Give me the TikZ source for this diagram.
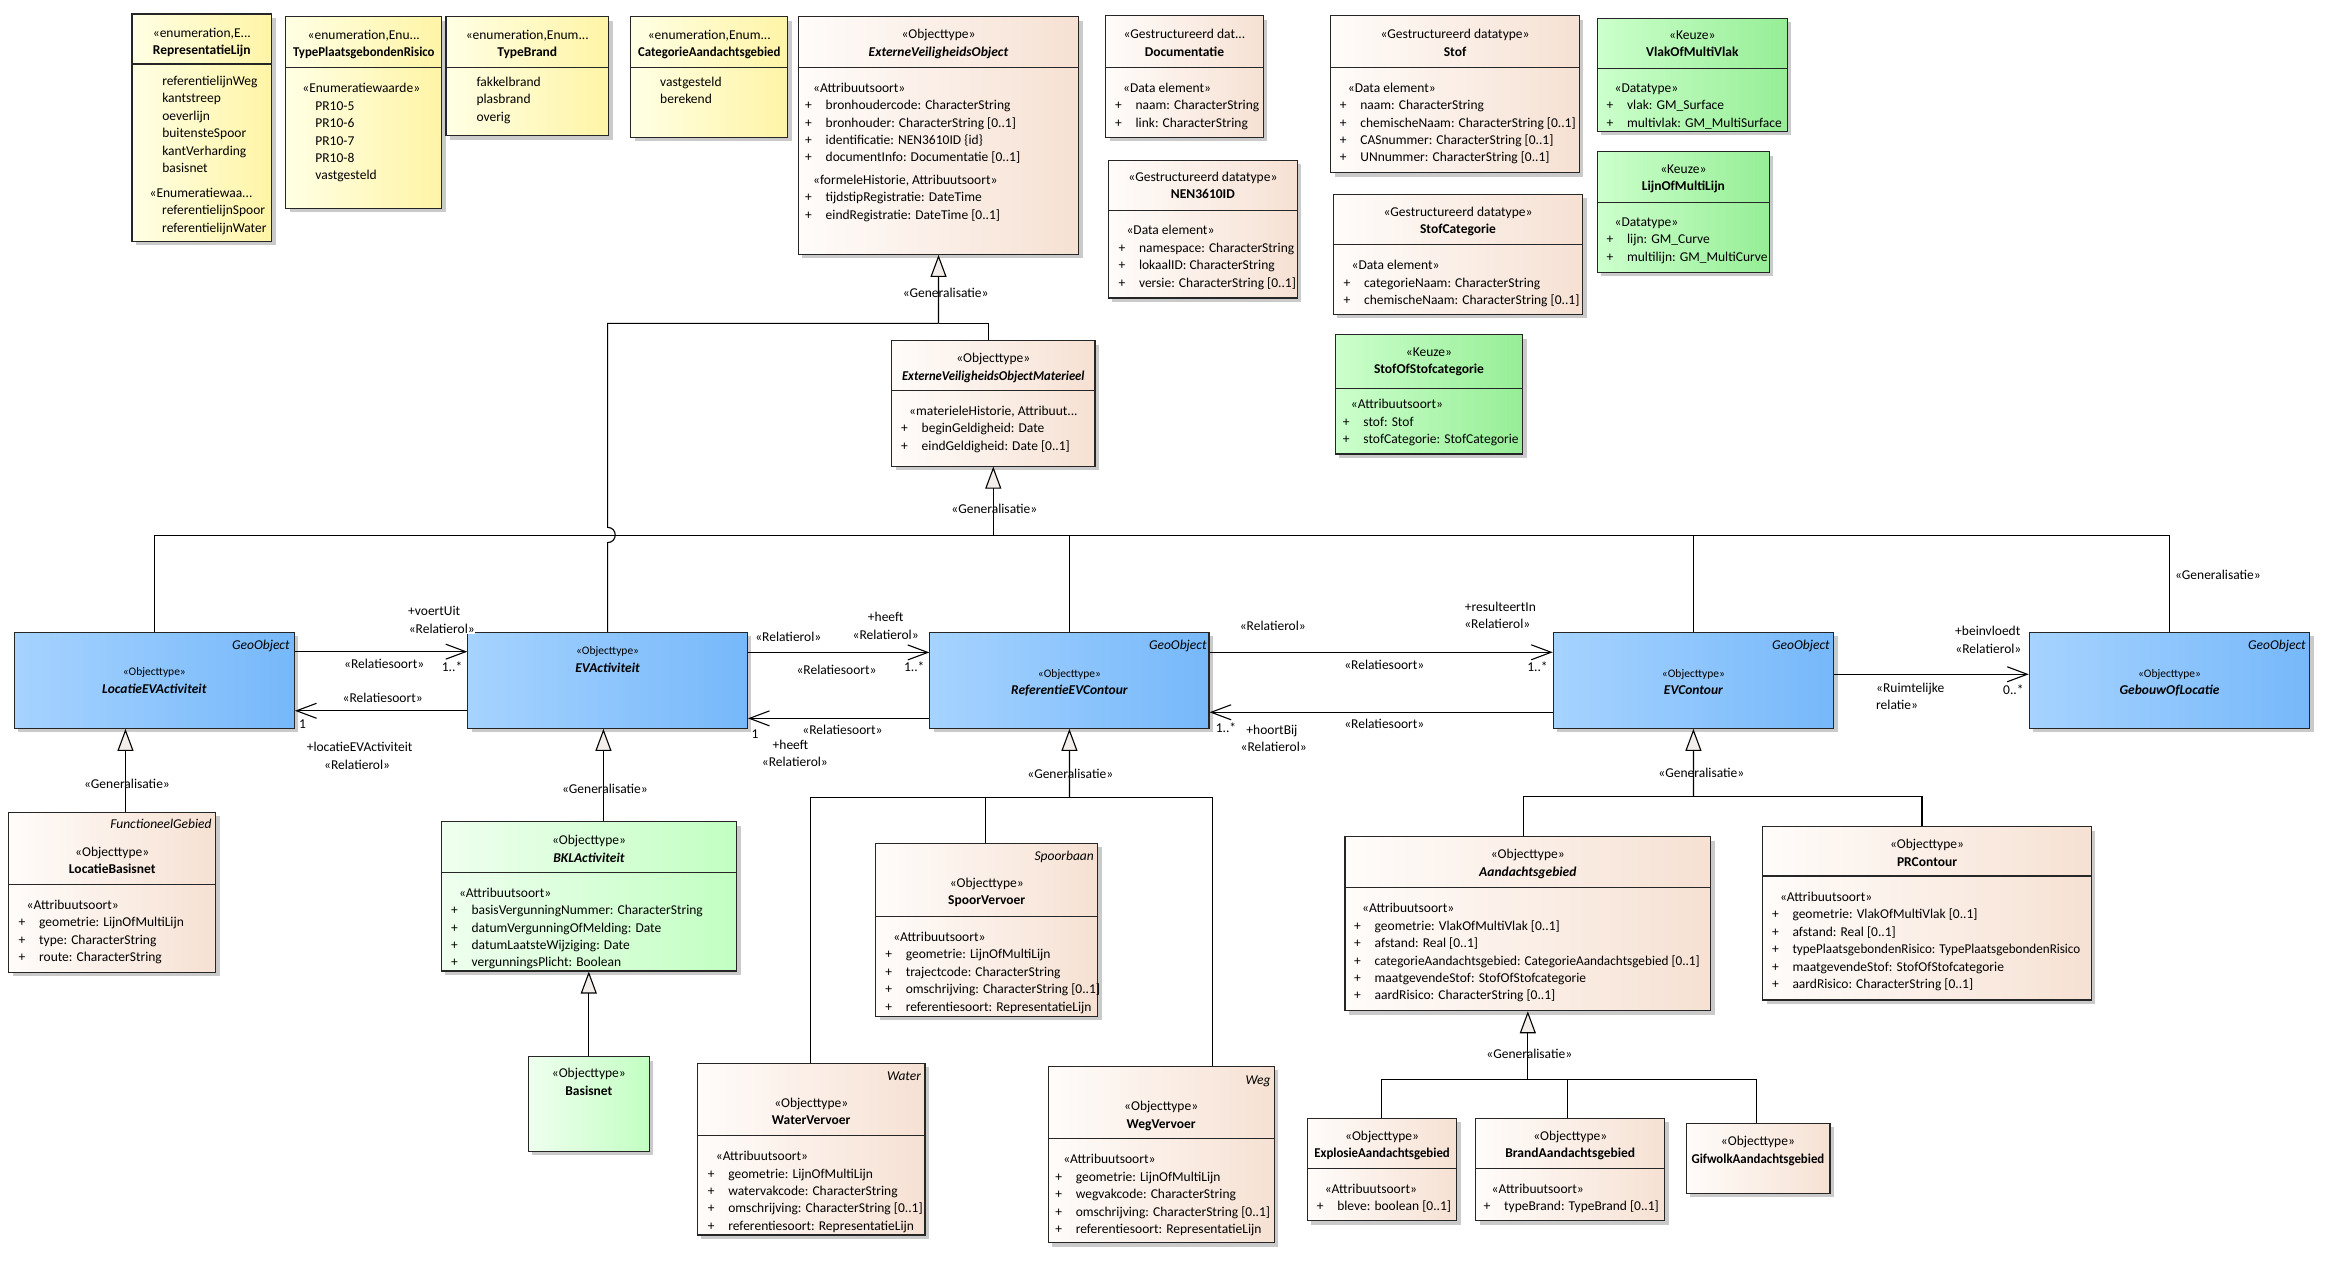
\documentclass[tikz,border=0pt]{standalone}
\usepackage{fontspec}
\setmainfont{Carlito}
\usepackage{tikz}
\usetikzlibrary{arrows.meta,fit,shadows}

\definecolor{enumL}{HTML}{FFFFE4}
\definecolor{enumR}{HTML}{FFF4A6}
\definecolor{objL}{HTML}{FFFCFA}
\definecolor{objR}{HTML}{F6E1D3}
\definecolor{geoL}{HTML}{A6D3FF}
\definecolor{geoR}{HTML}{76B8FA}
\definecolor{bklL}{HTML}{EFFFEF}
\definecolor{bklR}{HTML}{C2FFC2}
\definecolor{keuL}{HTML}{CCFFCC}
\definecolor{keuR}{HTML}{96EE96}
\definecolor{trifill}{HTML}{F4EEEA}

\newcommand{\ea}{\fontsize{13.5}{17.4}\selectfont}
\newcommand{\eas}{\fontsize{11.5}{15}\selectfont}
\newcommand{\pl}{\makebox[20.5pt][l]{+}}
\newcommand{\ind}{\hspace*{8pt}}
\newcommand{\umlbox}[6]{\node[#2,fit={(#3,#4) (#5,#6)}] (#1) {};}
\newcommand{\compsep}[2]{\draw[sepline] (#1.west |- 0,#2) -- (#1.east |- 0,#2);}

\begin{document}
\begin{tikzpicture}[x=1.4885pt,y=-1.4885pt,
  cls/.style={draw=black!85,line width=1.1pt,inner sep=0pt,
    drop shadow={shadow xshift=4pt,shadow yshift=-4pt,fill=black!60,opacity=.35}},
  enumbox/.style={cls,left color=enumL,right color=enumR},
  objbox/.style={cls,left color=objL,right color=objR},
  geobox/.style={cls,left color=geoL,right color=geoR},
  bklbox/.style={cls,left color=bklL,right color=bklR},
  keuzebox/.style={cls,left color=keuL,right color=keuR},
  sepline/.style={draw=black!85,line width=1.1pt},
  txt/.style={inner sep=0pt,font=\ea,execute at begin node={\rule{0pt}{13pt}}},
  hd/.style={txt,align=center,anchor=north,yshift=4pt},
  attr/.style={txt,align=left,anchor=north west,yshift=4pt},
  lbl/.style={txt,anchor=north,yshift=8.5pt},
  tag/.style={txt,anchor=north east,yshift=8.5pt,font=\ea\itshape},
  lnk/.style={line width=1.1pt},
  assoc/.style={lnk,-{Straight Barb[length=20pt,width=15pt]}},
  gen/.style={lnk,-{Triangle[length=22pt,width=16pt,fill=trifill]}}]
 \useasboundingbox (0,0) rectangle (1568,848);

 % enumeraties
 \umlbox{RepLijn}{enumbox}{88.7}{9.4}{182.6}{162}
 \compsep{RepLijn}{43}
 \node[hd] (RepLijn-h) at (135.6,21.3) {«enumeration,E...\\\textbf{RepresentatieLijn}};
 \node[attr] (RepLijn-a) at (108.9,53.7) {referentielijnWeg\\kantstreep\\oeverlijn\\buitensteSpoor\\kantVerharding\\basisnet};
 \node[attr] (RepLijn-b) at (100.4,128.8) {«Enumeratiewaa...\\\hspace*{12.6pt}referentielijnSpoor\\\hspace*{12.6pt}referentielijnWater};

 \umlbox{TypePR}{enumbox}{191.9}{11.2}{296.8}{140}
 \compsep{TypePR}{45.2}
 \node[hd] (TypePR-h) at (244.4,22.8) {«enumeration,Enu...\\\textbf{\scalebox{.95}[1]{TypePlaatsgebondenRisico}}};
 \node[attr] (TypePR-a) at (203,58.7) {«Enumeratiewaarde»\\\hspace*{13pt}PR10-5\\\hspace*{13pt}PR10-6\\\hspace*{13pt}PR10-7\\\hspace*{13pt}PR10-8\\\hspace*{13pt}vastgesteld};

 \umlbox{TypeBrand}{enumbox}{299.6}{11.2}{408.9}{91.2}
 \compsep{TypeBrand}{45.2}
 \node[hd] (TypeBrand-h) at (354.2,22.8) {«enumeration,Enum...\\\textbf{TypeBrand}};
 \node[attr] (TypeBrand-a) at (320,54.2) {fakkelbrand\\plasbrand\\overig};

 \umlbox{CatAG}{enumbox}{423.8}{11.2}{529.2}{92.3}
 \compsep{CatAG}{45.2}
 \node[hd] (CatAG-h) at (476.5,22.8) {«enumeration,Enum...\\\textbf{\scalebox{.95}[1]{CategorieAandachtsgebied}}};
 \node[attr] (CatAG-a) at (443.4,54.2) {vastgesteld\\berekend};

 % datatypen
 \umlbox{EVO}{objbox}{536.3}{11.2}{724.7}{170.9}
 \compsep{EVO}{45.2}
 \node[hd] (EVO-h) at (630.5,22.4) {«Objecttype»\\\textbf{\textit{ExterneVeiligheidsObject}}};
 \node[attr] (EVO-a) at (540.8,58.2) {\ind«Attribuutsoort»\\\pl bronhoudercode: CharacterString\\\pl bronhouder: CharacterString [0..1]\\\pl identificatie: NEN3610ID \{id\}\\\pl documentInfo: Documentatie [0..1]\\[5pt]\ind«formeleHistorie, Attribuutsoort»\\\pl tijdstipRegistratie: DateTime\\\pl eindRegistratie: DateTime [0..1]};

 \umlbox{Doc}{objbox}{742.8}{10.7}{848.7}{92.2}
 \compsep{Doc}{45.2}
 \node[hd] (Doc-h) at (795.7,22.4) {«Gestructureerd dat...\\\textbf{Documentatie}};
 \node[attr] (Doc-a) at (749,58.2) {\ind«Data element»\\\pl naam: CharacterString\\\pl link: CharacterString};

 \umlbox{NEN}{objbox}{744.6}{107.7}{871.6}{200.2}
 \compsep{NEN}{141.5}
 \node[hd] (NEN-h) at (808.1,118.2) {«Gestructureerd datatype»\\\textbf{NEN3610ID}};
 \node[attr] (NEN-a) at (751.3,154.1) {\ind«Data element»\\\pl namespace: CharacterString\\\pl lokaalID: CharacterString\\\pl versie: CharacterString [0..1]};

 \umlbox{Stof}{objbox}{893.9}{10.7}{1061}{116}
 \compsep{Stof}{45.2}
 \node[hd] (Stof-h) at (977.5,22.4) {«Gestructureerd datatype»\\\textbf{Stof}};
 \node[attr] (Stof-a) at (900,58.2) {\ind«Data element»\\\pl naam: CharacterString\\\pl chemischeNaam: CharacterString [0..1]\\\pl CASnummer: CharacterString [0..1]\\\pl UNnummer: CharacterString [0..1]};

 \umlbox{StofCat}{objbox}{895.7}{130.6}{1063.2}{211.2}
 \compsep{StofCat}{164.2}
 \node[hd] (StofCat-h) at (979.5,141.5) {«Gestructureerd datatype»\\\textbf{StofCategorie}};
 \node[attr] (StofCat-a) at (902.5,177.4) {\ind«Data element»\\\pl categorieNaam: CharacterString\\\pl chemischeNaam: CharacterString [0..1]};

 \umlbox{StofKeuze}{keuzebox}{897}{225}{1023}{305}
 \compsep{StofKeuze}{261}
 \node[hd] (StofKeuze-h) at (960,236) {«Keuze»\\\textbf{StofOfStofcategorie}};
 \node[attr] (StofKeuze-a) at (902,271) {\ind«Attribuutsoort»\\\pl stof: Stof\\\pl stofCategorie: StofCategorie};

 \umlbox{Vlak}{keuzebox}{1073}{12.3}{1200.7}{88.2}
 \compsep{Vlak}{45.9}
 \node[hd] (Vlak-h) at (1136.9,23) {«Keuze»\\\textbf{VlakOfMultiVlak}};
 \node[attr] (Vlak-a) at (1079.2,58.9) {\ind«Datatype»\\\pl vlak: GM\_Surface\\\pl multivlak: GM\_MultiSurface};

 \umlbox{Lijn}{keuzebox}{1073}{101.9}{1188.7}{183}
 \compsep{Lijn}{135.9}
 \node[hd] (Lijn-h) at (1130.9,113.3) {«Keuze»\\\textbf{LijnOfMultiLijn}};
 \node[attr] (Lijn-a) at (1079.2,148.9) {\ind«Datatype»\\\pl lijn: GM\_Curve\\\pl multilijn: GM\_MultiCurve};

 \umlbox{EVOM}{objbox}{599}{228.9}{735.6}{313.1}
 \compsep{EVOM}{262.5}
 \node[hd] (EVOM-h) at (667.3,240) {«Objecttype»\\\textbf{\textit{\scalebox{.94}[1]{ExterneVeiligheidsObjectMaterieel}}}};
 \node[attr] (EVOM-a) at (605.3,275.4) {\ind«materieleHistorie, Attribuut...\\\pl beginGeldigheid: Date\\\pl eindGeldigheid: Date [0..1]};

 % geo-objecten
 \umlbox{LocatieEVActiviteit}{geobox}{9.6}{424.8}{197.8}{489.3}
 \node[tag] (LocEV-t) at (194.7,433.3) {GeoObject};
 \node[hd] (LocEV-h) at (103.7,451.2) {{\eas«Objecttype»}\\\textbf{\textit{LocatieEVActiviteit}}};
 \umlbox{EVActiviteit}{geobox}{314.3}{424.8}{502.1}{489.3}
 \node[hd] (EVAct-h) at (408.2,437.1) {{\eas«Objecttype»}\\\textbf{\textit{EVActiviteit}}};
 \umlbox{ReferentieEVContour}{geobox}{624.7}{424.8}{812.2}{489.3}
 \node[tag] (RefEV-t) at (810.7,433.5) {GeoObject};
 \node[hd] (RefEV-h) at (718.5,452.3) {{\eas«Objecttype»}\\\textbf{\textit{ReferentieEVContour}}};
 \umlbox{EVContour}{geobox}{1043.5}{424.8}{1231.8}{489.3}
 \node[tag] (EVC-t) at (1229.3,433.5) {GeoObject};
 \node[hd] (EVC-h) at (1137.7,452.3) {{\eas«Objecttype»}\\\textbf{\textit{EVContour}}};
 \umlbox{GebouwOfLocatie}{geobox}{1363.3}{424.8}{1551.6}{489.3}
 \node[tag] (Geb-t) at (1549.1,433.5) {GeoObject};
 \node[hd] (Geb-h) at (1457.5,452.3) {{\eas«Objecttype»}\\\textbf{\textit{GebouwOfLocatie}}};

 % subtypen
 \umlbox{LocatieBasisnet}{objbox}{5.9}{545.7}{144.9}{653.2}
 \compsep{LocatieBasisnet}{594.1}
 \node[tag] (LocB-t) at (142.3,553.6) {FunctioneelGebied};
 \node[hd] (LocB-h) at (75.4,571.5) {«Objecttype»\\\textbf{LocatieBasisnet}};
 \node[attr] (LocB-a) at (12.4,607.3) {\ind«Attribuutsoort»\\\pl geometrie: LijnOfMultiLijn\\\pl type: CharacterString\\\pl route: CharacterString};

 \umlbox{BKLActiviteit}{bklbox}{296.3}{552}{495}{652.3}
 \compsep{BKLActiviteit}{586}
 \node[hd] (BKL-h) at (395.7,563.7) {«Objecttype»\\\textbf{\textit{BKLActiviteit}}};
 \node[attr] (BKL-a) at (302.9,599) {\ind«Attribuutsoort»\\\pl basisVergunningNummer: CharacterString\\\pl datumVergunningOfMelding: Date\\\pl datumLaatsteWijziging: Date\\\pl vergunningsPlicht: Boolean};

 \umlbox{Basisnet}{bklbox}{354.8}{709.9}{436.3}{773.5}
 \node[hd] (Basisnet-h) at (395.6,720.4) {«Objecttype»\\\textbf{Basisnet}};

 \umlbox{SpoorVervoer}{objbox}{588.3}{566.6}{737.4}{682.6}
 \compsep{SpoorVervoer}{615.8}
 \node[tag] (Spoor-t) at (735,575.1) {Spoorbaan};
 \node[hd] (Spoor-h) at (662.9,592.3) {«Objecttype»\\\textbf{SpoorVervoer}};
 \node[attr] (Spoor-a) at (594.6,628.8) {\ind«Attribuutsoort»\\\pl geometrie: LijnOfMultiLijn\\\pl trajectcode: CharacterString\\\pl omschrijving: CharacterString [0..1]\\\pl referentiesoort: RepresentatieLijn};

 \umlbox{WaterVervoer}{objbox}{468.5}{714.3}{621.4}{829.7}
 \compsep{WaterVervoer}{763}
 \node[tag] (Water-t) at (618.8,722.9) {Water};
 \node[hd] (Water-h) at (545,740.1) {«Objecttype»\\\textbf{WaterVervoer}};
 \node[attr] (Water-a) at (475.4,776) {\ind«Attribuutsoort»\\\pl geometrie: LijnOfMultiLijn\\\pl watervakcode: CharacterString\\\pl omschrijving: CharacterString [0..1]\\\pl referentiesoort: RepresentatieLijn};

 \umlbox{WegVervoer}{objbox}{704.1}{716.2}{856.2}{834.8}
 \compsep{WegVervoer}{764.7}
 \node[tag] (Weg-t) at (853.7,725.1) {Weg};
 \node[hd] (Weg-h) at (780.1,742.4) {«Objecttype»\\\textbf{WegVervoer}};
 \node[attr] (Weg-a) at (708.8,778.2) {\ind«Attribuutsoort»\\\pl geometrie: LijnOfMultiLijn\\\pl wegvakcode: CharacterString\\\pl omschrijving: CharacterString [0..1]\\\pl referentiesoort: RepresentatieLijn};

 \umlbox{Aandachtsgebied}{objbox}{903.6}{562.1}{1149.2}{679}
 \compsep{Aandachtsgebied}{596.1}
 \node[hd] (AG-h) at (1026.4,573.3) {«Objecttype»\\\textbf{\textit{Aandachtsgebied}}};
 \node[attr] (AG-a) at (909.6,609.5) {\ind«Attribuutsoort»\\\pl geometrie: VlakOfMultiVlak [0..1]\\\pl afstand: Real [0..1]\\\pl \scalebox{.98}[1]{categorieAandachtsgebied: CategorieAandachtsgebied [0..1]}\\\pl maatgevendeStof: StofOfStofcategorie\\\pl aardRisico: CharacterString [0..1]};

 \umlbox{PRContour}{objbox}{1184.3}{555.4}{1404.9}{671.8}
 \compsep{PRContour}{588.5}
 \node[hd] (PRC-h) at (1294.6,566.6) {«Objecttype»\\\textbf{PRContour}};
 \node[attr] (PRC-a) at (1190.3,601.9) {\ind«Attribuutsoort»\\\pl geometrie: VlakOfMultiVlak [0..1]\\\pl afstand: Real [0..1]\\\pl \scalebox{.97}[1]{typePlaatsgebondenRisico: TypePlaatsgebondenRisico}\\\pl maatgevendeStof: StofOfStofcategorie\\\pl aardRisico: CharacterString [0..1]};

 \umlbox{Explosie}{objbox}{878.3}{751.3}{978.6}{820.1}
 \compsep{Explosie}{784.9}
 \node[hd] (Expl-h) at (928.5,762.5) {«Objecttype»\\\textbf{\scalebox{.95}[1]{ExplosieAandachtsgebied}}};
 \node[attr] (Expl-a) at (884.5,797.9) {\ind«Attribuutsoort»\\\pl bleve: boolean [0..1]};

 \umlbox{Brand}{objbox}{991.4}{751.3}{1118.3}{820.1}
 \compsep{Brand}{784.9}
 \node[hd] (Brand-h) at (1054.9,762.5) {«Objecttype»\\\textbf{BrandAandachtsgebied}};
 \node[attr] (Brand-a) at (996.6,797.9) {\ind«Attribuutsoort»\\\pl typeBrand: TypeBrand [0..1]};

 \umlbox{Gifwolk}{objbox}{1132.7}{754.7}{1229.4}{801.7}
 \node[hd] (Gif-h) at (1181,765.9) {«Objecttype»\\\textbf{\scalebox{.95}[1]{GifwolkAandachtsgebied}}};

 % generalisaties
 \coordinate (g1) at (630.5,217.2);
 \draw[gen] (g1) -- (EVO.south);
 \draw[lnk] (EVOM.north -| 664,0) |- (g1);
 \draw[lnk] (EVActiviteit.north) -- (408.2,364.5) .. controls (415,364.5) and (415,354.3) .. (408.2,354.3) |- (g1);
 \coordinate (g2) at (667.3,359.75);
 \draw[gen] (g2) -- (EVOM.south);
 \draw[lnk] (LocatieEVActiviteit.north) |- (g2) -| (GebouwOfLocatie.north);
 \foreach \c in {ReferentieEVContour,EVContour} \draw[lnk] (\c.north) -- (\c.north |- g2);
 \draw[gen] (LocatieBasisnet.north -| 84.3,0) -- (LocatieEVActiviteit.south -| 84.3,0);
 \draw[gen] (BKLActiviteit.north -| 405.4,0) -- (EVActiviteit.south -| 405.4,0);
 \draw[gen] (Basisnet.north) -- (BKLActiviteit.south -| Basisnet.north);
 \coordinate (g3) at (718.5,535.8);
 \draw[gen] (g3) -- (ReferentieEVContour.south);
 \draw[lnk] (WaterVervoer.north -| 544.2,0) |- (g3) -| (WegVervoer.north -| 814.3,0);
 \draw[lnk] (SpoorVervoer.north -| 662.2,0) -- (662.2,535.8);
 \coordinate (g4) at (1137.7,535);
 \draw[gen] (g4) -- (EVContour.south);
 \draw[lnk] (Aandachtsgebied.north -| 1023.5,0) |- (g4) -| (PRContour.north -| 1291.2,0);
 \coordinate (g5) at (1026.4,725.1);
 \draw[gen] (g5) -- (Aandachtsgebied.south);
 \draw[lnk] (Explosie.north -| 928.1,0) |- (g5) -| (Gifwolk.north -| 1180.05,0);
 \draw[lnk] (Brand.north -| 1053.05,0) -- (1053.05,725.1);

 % relaties
 \foreach \a/\b/\y in {LocatieEVActiviteit/EVActiviteit/437.8,EVActiviteit/ReferentieEVContour/438.3,
   ReferentieEVContour/EVContour/438.2,EVContour/GebouwOfLocatie/452.98}
   \draw[assoc] (\a.east |- 0,\y) -- (\b.west |- 0,\y);
 \foreach \a/\b/\y in {EVActiviteit/LocatieEVActiviteit/477.5,ReferentieEVContour/EVActiviteit/482.6,
   EVContour/ReferentieEVContour/478.5}
   \draw[assoc] (\a.west |- 0,\y) -- (\b.east |- 0,\y);

 % labels
 \node[lbl] (n1) at (635.3,197) {«Generalisatie»};
 \node[lbl] (n2) at (668,342) {«Generalisatie»};
 \node[lbl] (n3) at (1490,386.3) {«Generalisatie»};
 \node[lbl] (n4) at (85.3,526.3) {«Generalisatie»};
 \node[lbl] (n5) at (406.4,529.6) {«Generalisatie»};
 \node[lbl] (n6) at (719,520) {«Generalisatie»};
 \node[lbl] (n7) at (1143,519) {«Generalisatie»};
 \node[lbl] (n8) at (1027.4,708.1) {«Generalisatie»};

 \node[lbl] (r1) at (291.7,410.3) {+voertUit};
 \node[lbl,fill=white] (r2) at (296.8,422.6) {«Relatierol»};
 \node[lbl] (r3) at (258.1,446.1) {«Relatiesoort»};
 \node[lbl] (r4) at (303.7,447.9) {1..*};
 \node[lbl] (r5) at (257.1,468.7) {«Relatiesoort»};
 \node[lbl] (r6) at (203.3,486.4) {1};
 \node[lbl] (r7) at (241.6,501.6) {+locatieEVActiviteit};
 \node[lbl] (r8) at (239.9,513.9) {«Relatierol»};
 \node[lbl] (r9) at (529.6,427.7) {«Relatierol»};
 \node[lbl] (r10) at (595,414.3) {+heeft};
 \node[lbl] (r11) at (595,426.6) {«Relatierol»};
 \node[lbl] (r12) at (562,450) {«Relatiesoort»};
 \node[lbl] (r13) at (614.2,447.9) {1..*};
 \node[lbl] (r14) at (507.3,492.7) {1};
 \node[lbl] (r15) at (566,490) {«Relatiesoort»};
 \node[lbl] (r16) at (531,500.5) {+heeft};
 \node[lbl] (r17) at (534,512) {«Relatierol»};
 \node[lbl] (r18) at (855.1,420.6) {«Relatierol»};
 \node[lbl] (r19) at (1008,407.6) {+resulteertIn};
 \node[lbl] (r20) at (1005.9,419.2) {«Relatierol»};
 \node[lbl] (r21) at (930,446.8) {«Relatiesoort»};
 \node[lbl] (r22) at (1032.9,447.9) {1..*};
 \node[lbl] (r23) at (823.6,488.6) {1..*};
 \node[lbl] (r24) at (854.5,490.4) {+hoortBij};
 \node[lbl] (r25) at (855.7,501.6) {«Relatierol»};
 \node[lbl] (r26) at (930,486.4) {«Relatiesoort»};
 \node[lbl] (r27) at (1335.4,423.9) {+beinvloedt};
 \node[lbl] (r28) at (1335.8,435.6) {«Relatierol»};
 \node[attr] (r29) at (1260.3,461.3) {«Ruimtelijke\\relatie»};
 \node[lbl] (r30) at (1352.6,463.5) {0..*};
\end{tikzpicture}
\end{document}
